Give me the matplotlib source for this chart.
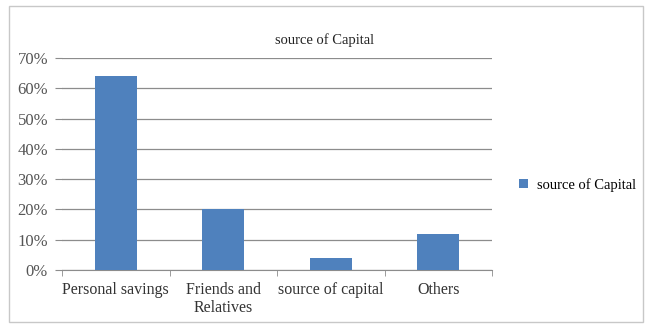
import matplotlib
matplotlib.use("Agg")
import matplotlib.pyplot as plt
from matplotlib.patches import Rectangle
from matplotlib.ticker import FuncFormatter

categories = ["Personal savings", "Friends and\nRelatives", "source of capital", "Others"]
values = [64, 20, 4, 12]
series_name = "source of Capital"

plt.rcParams["font.family"] = ["Liberation Serif", "DejaVu Serif"]

fig = plt.figure(figsize=(6.46, 3.24), dpi=100)
fig.patches.append(Rectangle((9 / 646, 2 / 324), 634 / 646, 316 / 324, transform=fig.transFigure,
                             fill=False, edgecolor="#c8c8c8", linewidth=1))

ax = fig.add_axes([62 / 646, 54 / 324, 430 / 646, 212 / 324])
x = list(range(len(categories)))
bars = ax.bar(x, values, width=0.39, color="#4f81bd", label=series_name, zorder=3)

ax.set_xlim(-0.5, len(categories) - 0.5)
ax.set_ylim(0, 70)
ax.set_yticks(range(0, 71, 10))
ax.yaxis.set_major_formatter(FuncFormatter(lambda v, p: f"{int(v)}%"))
ax.grid(axis="y", color="#8c8c8c", linewidth=0.9, zorder=0)

ax.set_xticks(x)
ax.set_xticklabels(categories, fontsize=11.5, color="#333333", linespacing=1.15)
ax.set_xticks([i - 0.5 for i in range(len(categories) + 1)], minor=True)
ax.tick_params(axis="x", which="major", length=0, pad=9)
ax.tick_params(axis="x", which="minor", length=4, color="#8c8c8c")
ax.tick_params(axis="y", length=5, color="#8c8c8c", labelsize=12, labelcolor="#555555", pad=5)

for s in ["top", "right", "left"]:
    ax.spines[s].set_visible(False)
ax.spines["bottom"].set_color("#8c8c8c")

fig.text(325 / 646, 1 - 40 / 324, "source of Capital", ha="center", va="center", fontsize=10.5, color="#222222")

fig.legend(handles=[bars], labels=[series_name], loc="center left", bbox_to_anchor=(506 / 646, 1 - 185 / 324),
           frameon=False, fontsize=10.5, handlelength=0.6, handleheight=0.6, handletextpad=0.6)

fig.savefig("out.png", dpi=100)
